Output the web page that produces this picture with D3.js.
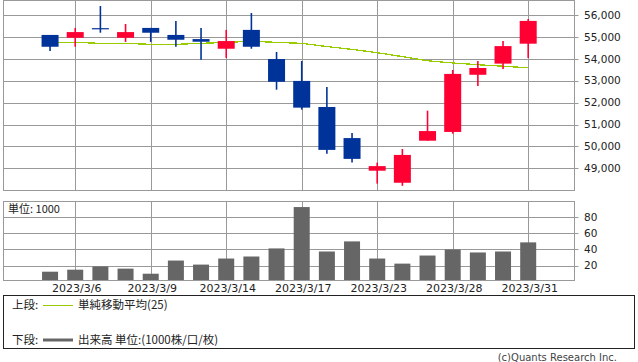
<!DOCTYPE html>
<html><head><meta charset="utf-8">
<script src="https://cdn.jsdelivr.net/npm/d3@7"></script>
<style>
html,body{margin:0;padding:0;background:#fff;}
svg{display:block;}
text{font-family:"DejaVu Sans",sans-serif;fill:#222;}
.jp{font-family:"Noto Sans CJK JP","DejaVu Sans",sans-serif;}
</style></head>
<body>
<svg id="c" width="638" height="362"></svg>
<script>
const dates = ["2023/3/3","2023/3/6","2023/3/7","2023/3/8","2023/3/9","2023/3/10","2023/3/13","2023/3/14","2023/3/15","2023/3/16","2023/3/17","2023/3/20","2023/3/22","2023/3/23","2023/3/24","2023/3/27","2023/3/28","2023/3/29","2023/3/30","2023/3/31"];
const openP  = [55090,54960,55400,54960,55410,55090,54900,54460,55320,53990,52990,51800,50380,48890,48340,50260,50660,53270,53780,54690];
const highP  = [55090,55410,56410,55590,55410,55730,55410,55320,56090,54310,53900,52710,50610,49260,49880,51630,53490,53900,54810,55820];
const lowP   = [54360,54550,55190,54770,54770,54550,53960,54040,54460,52590,51680,49670,49260,48300,48200,50260,50580,52760,53530,54040];
const closeP = [54550,55220,55370,55220,55190,54870,54780,54810,54550,52950,51770,49840,49430,49100,49610,50700,53310,53580,54580,55730];
const ma25   = [54750,54750,54705,54705,54660,54660,54705,54750,54800,54750,54705,54560,54430,54280,54100,53910,53810,53730,53660,53590];
const volume = [12.5,15,19,16.3,10,26.3,21.3,28.8,31.3,41.3,92.5,37.5,50,28.8,22.5,32.5,40,36.3,37.5,48.8];
const dateTicks = ["2023/3/6","2023/3/9","2023/3/14","2023/3/17","2023/3/23","2023/3/28","2023/3/31"];
const priceTicks = [49000,50000,51000,52000,53000,54000,55000,56000];
const volTicks = [20,40,60,80];

const svg = d3.select("#c");
const L = 3, R = 574;
const gridC = "#999999";
const upC = "#ff0033", downC = "#003399", maC = "#99cc00", volC = "#666666";

const x = d3.scaleLinear().domain([-1.87, 20.82]).range([L, R]);
const y = d3.scaleLinear().domain([48000, 56000]).range([190.2, 15]);
const yv = d3.scaleLinear().domain([0, 100]).range([281.8, 201]);
const mainTop = 0.5, mainBot = 190.5, volTop = 201.5, volBot = 280.5;

const idx = d3.range(dates.length);
const px = v => Math.round(v) + 0.5;

// main panel grid
const gMain = svg.append("g");
gMain.selectAll("line.h").data(priceTicks).join("line")
  .attr("x1", L).attr("x2", R).attr("y1", d => px(y(d))).attr("y2", d => px(y(d)))
  .attr("stroke", gridC);
gMain.selectAll("line.v").data(dateTicks).join("line")
  .attr("x1", d => px(x(dates.indexOf(d)))).attr("x2", d => px(x(dates.indexOf(d))))
  .attr("y1", mainTop).attr("y2", mainBot).attr("stroke", gridC);
gMain.append("rect").attr("x", L + 0.5).attr("y", mainTop).attr("width", R - L).attr("height", mainBot - mainTop)
  .attr("fill", "none").attr("stroke", gridC);
gMain.selectAll("line.t").data(priceTicks).join("line")
  .attr("x1", R + 0.5).attr("x2", R + 4.5).attr("y1", d => px(y(d))).attr("y2", d => px(y(d))).attr("stroke", gridC);
gMain.selectAll("text.yl").data(priceTicks).join("text")
  .attr("x", 584).attr("y", d => y(d)).attr("dy", "0.36em")
  .style("font-size", "10.5px").text(d => d3.format(",")(d));

// MA line
svg.append("path").datum(idx)
  .attr("d", d3.line().x(i => x(i)).y(i => y(ma25[i])))
  .attr("fill", "none").attr("stroke", maC).attr("stroke-width", 1.3)
  .attr("shape-rendering", "crispEdges");

// candles
const bw = 17;
const gC = svg.append("g");
idx.forEach(i => {
  const col = closeP[i] >= openP[i] ? upC : downC;
  const cx = x(i);
  gC.append("line").attr("x1", cx).attr("x2", cx).attr("y1", y(highP[i])).attr("y2", y(lowP[i]))
    .attr("stroke", col).attr("stroke-width", 1.6);
  const top = y(Math.max(openP[i], closeP[i])), bot = y(Math.min(openP[i], closeP[i]));
  gC.append("rect").attr("x", cx - bw / 2).attr("y", top).attr("width", bw)
    .attr("height", Math.max(1.2, bot - top)).attr("fill", col);
});

// volume panel
const gV = svg.append("g");
gV.selectAll("line.h").data(volTicks).join("line")
  .attr("x1", L).attr("x2", R).attr("y1", d => px(yv(d))).attr("y2", d => px(yv(d))).attr("stroke", gridC);
gV.selectAll("line.v").data(dateTicks).join("line")
  .attr("x1", d => px(x(dates.indexOf(d)))).attr("x2", d => px(x(dates.indexOf(d))))
  .attr("y1", volTop).attr("y2", volBot).attr("stroke", gridC);
gV.selectAll("rect.b").data(idx).join("rect")
  .attr("x", i => x(i) - 8).attr("width", 16)
  .attr("y", i => yv(volume[i])).attr("height", i => volBot - yv(volume[i]))
  .attr("fill", volC);
gV.append("rect").attr("x", L + 0.5).attr("y", volTop).attr("width", R - L).attr("height", volBot - volTop)
  .attr("fill", "none").attr("stroke", gridC);
gV.selectAll("line.t").data(volTicks).join("line")
  .attr("x1", R + 0.5).attr("x2", R + 4.5).attr("y1", d => px(yv(d))).attr("y2", d => px(yv(d))).attr("stroke", gridC);
gV.selectAll("text.yl").data(volTicks).join("text")
  .attr("x", 584).attr("y", d => yv(d)).attr("dy", "0.36em")
  .style("font-size", "10.5px").text(d => d);
gV.append("text").attr("class", "jp").attr("x", 8).attr("y", 209).attr("dy", "0.36em")
  .style("font-size", "11px").text("単位: 1000");

// date labels
svg.selectAll("text.dl").data(dateTicks).join("text")
  .attr("x", d => x(dates.indexOf(d)) + 1.5).attr("y", 288).attr("dy", "0.36em")
  .attr("text-anchor", "middle").style("font-size", "11px").text(d => d);

// legend box
const gL = svg.append("g");
gL.append("rect").attr("x", 3.5).attr("y", 295.5).attr("width", 631).attr("height", 53)
  .attr("fill", "none").attr("stroke", "#222");
gL.append("text").attr("class", "jp").attr("x", 12).attr("y", 305).attr("dy", "0.36em")
  .style("font-size", "11.5px").text("上段:");
gL.append("line").attr("x1", 43).attr("x2", 73).attr("y1", 305.5).attr("y2", 305.5).attr("stroke", maC).attr("stroke-width", 1);
gL.append("text").attr("class", "jp").attr("x", 78).attr("y", 305).attr("dy", "0.36em")
  .style("font-size", "11.5px").text("単純移動平均(25)");
gL.append("text").attr("class", "jp").attr("x", 12).attr("y", 340).attr("dy", "0.36em")
  .style("font-size", "11.5px").text("下段:");
gL.append("line").attr("x1", 43).attr("x2", 73).attr("y1", 340).attr("y2", 340).attr("stroke", volC).attr("stroke-width", 3);
gL.append("text").attr("class", "jp").attr("x", 78).attr("y", 340).attr("dy", "0.36em")
  .style("font-size", "11.5px").text("出来高 単位:(1000株/口/枚)");

svg.append("text").attr("x", 617).attr("y", 357).attr("dy", "0.36em").attr("text-anchor", "end")
  .style("font-size", "10px").style("fill", "#444").text("(c)Quants Research Inc.");
</script>
</body></html>
